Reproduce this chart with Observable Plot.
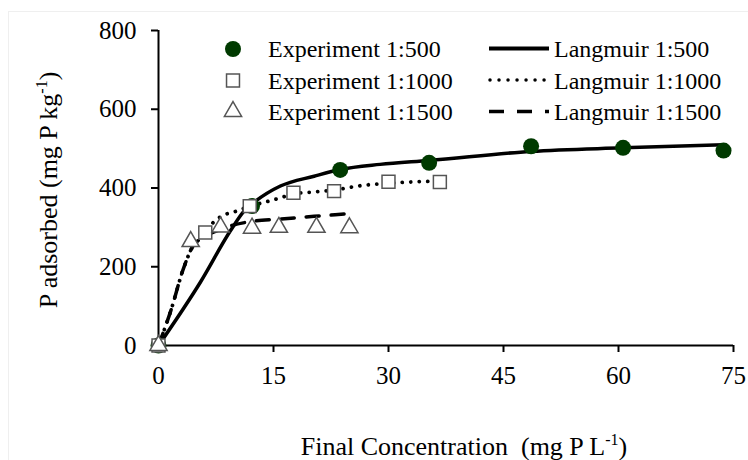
<!DOCTYPE html>
<html>
<head>
<meta charset="utf-8">
<script src="https://cdn.jsdelivr.net/npm/d3@7"></script>
<script src="https://cdn.jsdelivr.net/npm/@observablehq/plot@0.6"></script>
<style>
  html, body { margin: 0; padding: 0; background: #fff; }
  #wrap { position: relative; width: 748px; height: 460px; overflow: hidden; background: #fff; }
  #frame { position: absolute; left: 8px; top: 11px; width: 760px; height: 470px; border: 1px solid #efefef; box-sizing: border-box; }
  #chart { position: absolute; left: 0; top: 0; }
  #overlay { position: absolute; left: 0; top: 0; pointer-events: none; }
</style>
</head>
<body>
<div id="wrap">
  <div id="frame"></div>
  <div id="chart"></div>
  <svg id="overlay" width="748" height="460"></svg>
</div>
<script>
// ---- data ----
const xTicks = [0, 15, 30, 45, 60, 75];
const yTicks = [0, 200, 400, 600, 800];

const exp500X = [0, 12.2, 23.7, 35.3, 48.6, 60.6, 73.7];
const exp500Y = [0, 354, 446, 464, 506, 502, 495];

const exp1000X = [0, 6.1, 11.9, 17.6, 22.9, 30.0, 36.7];
const exp1000Y = [0, 287, 354, 388, 392, 416, 415];

const exp1500X = [0, 4.2, 8.1, 12.2, 15.7, 20.6, 24.9];
const exp1500Y = [0, 264, 301, 298, 300, 300, 299];

const lang500X = [0, 5.5, 9.4, 11.1, 12.7, 15.9, 20.3, 23.7, 28.9, 35.3, 48.6, 60.6, 73.7];
const lang500Y = [0, 162, 292, 340, 367, 405, 430, 447, 460, 470, 493, 502, 510];

const lang1000X = [0, 1.6, 3.3, 4.6, 6.1, 8.1, 10.3, 11.9, 13.7, 15.9, 17.6, 20.3, 22.9, 26.8, 30.0, 36.7];
const lang1000Y = [0, 88, 198, 257, 292, 327, 342, 354, 363, 375, 385, 390, 395, 407, 412, 418];

const lang1500X = [0, 1.6, 3.3, 4.6, 8.1, 12.1, 15.7, 20.3, 24.9];
const lang1500Y = [0, 88, 198, 255, 295, 315, 321, 328, 335];

const legendExp = ["Experiment 1:500", "Experiment 1:1000", "Experiment 1:1500"];
const legendLang = ["Langmuir 1:500", "Langmuir 1:1000", "Langmuir 1:1500"];

// ---- styles ----
const green = "#003a00";
const gray = "#555555";
const FONT = "'Liberation Serif', 'Times New Roman', serif";

const rows = (xs, ys) => xs.map((x, i) => ({x, y: ys[i]}));

const plot = Plot.plot({
  width: 748,
  height: 460,
  marginLeft: 158,
  marginRight: 15,
  marginTop: 30,
  marginBottom: 115,
  x: {domain: [0, 75]},
  y: {domain: [0, 800]},
  style: {fontFamily: FONT, fontSize: "25px", color: "black", background: "transparent", overflow: "visible"},
  marks: [
    Plot.axisX({ticks: xTicks, tickSize: 7, tickPadding: 14, strokeWidth: 2, label: null, tickFormat: d => String(d)}),
    Plot.axisY({ticks: yTicks, tickSize: 7, tickPadding: 15, strokeWidth: 2, label: null, tickFormat: d => String(d)}),
    Plot.ruleY([0], {strokeWidth: 2}),
    Plot.ruleX([0], {strokeWidth: 2}),
    Plot.line(rows(lang1500X, lang1500Y), {x: "x", y: "y", stroke: "black", strokeWidth: 3.5, strokeDasharray: "13,12", curve: "monotone-x"}),
    Plot.line(rows(lang1000X, lang1000Y), {x: "x", y: "y", stroke: "black", strokeWidth: 3.8, strokeDasharray: "0.01,8.5", strokeLinecap: "round", curve: "monotone-x"}),
    Plot.line(rows(lang500X, lang500Y), {x: "x", y: "y", stroke: "black", strokeWidth: 3.5, curve: "monotone-x"}),
    Plot.dot(rows(exp500X, exp500Y), {x: "x", y: "y", r: 8, fill: green, stroke: "none"}),
    Plot.dot(rows(exp1000X, exp1000Y), {x: "x", y: "y", r: 7.3, symbol: "square", fill: "white", stroke: gray, strokeWidth: 1.5}),
    Plot.dot(rows(exp1500X, exp1500Y), {x: "x", y: "y", r: 6.4, symbol: "triangle", fill: "white", stroke: gray, strokeWidth: 1.5})
  ]
});
document.getElementById("chart").appendChild(plot);

// ---- overlay: legend and axis titles ----
const svg = d3.select("#overlay");
const rowY = [49, 80.5, 111.5];
const baseY = [57, 88.5, 119.5];

// experiment markers
svg.append("path").attr("d", d3.symbol(d3.symbolCircle, Math.PI * 64)()).attr("transform", `translate(233,${rowY[0]})`).attr("fill", green);
svg.append("path").attr("d", d3.symbol(d3.symbolSquare, Math.PI * 7.3 * 7.3)()).attr("transform", `translate(233,${rowY[1]})`).attr("fill", "white").attr("stroke", gray).attr("stroke-width", 1.5);
svg.append("path").attr("d", d3.symbol(d3.symbolTriangle, Math.PI * 6.4 * 6.4)()).attr("transform", `translate(233,${rowY[2]})`).attr("fill", "white").attr("stroke", gray).attr("stroke-width", 1.5);
legendExp.forEach((t, i) => {
  svg.append("text").attr("x", 268).attr("y", baseY[i]).attr("font-family", FONT).attr("font-size", 24).text(t);
});

// langmuir line samples
svg.append("line").attr("x1", 489).attr("x2", 549).attr("y1", 48.5).attr("y2", 48.5).attr("stroke", "black").attr("stroke-width", 4);
svg.append("line").attr("x1", 490).attr("x2", 549).attr("y1", 80).attr("y2", 80).attr("stroke", "black").attr("stroke-width", 3.5).attr("stroke-dasharray", "0.01,9").attr("stroke-linecap", "round");
svg.append("line").attr("x1", 489).attr("x2", 549).attr("y1", 111.5).attr("y2", 111.5).attr("stroke", "black").attr("stroke-width", 3.5).attr("stroke-dasharray", "15,13");
legendLang.forEach((t, i) => {
  svg.append("text").attr("x", 554).attr("y", baseY[i]).attr("font-family", FONT).attr("font-size", 24).text(t);
});

// x axis title
const xt = svg.append("text").attr("x", 464).attr("y", 455).attr("text-anchor", "middle").attr("font-family", FONT).attr("font-size", 26);
xt.append("tspan").text("Final Concentration\u00a0\u00a0(mg P L");
xt.append("tspan").attr("dy", -10).attr("font-size", 16).text("-1");
xt.append("tspan").attr("dy", 10).text(")");

// y axis title
const yt = svg.append("text").attr("transform", "translate(56.5,190) rotate(-90)").attr("text-anchor", "middle").attr("font-family", FONT).attr("font-size", 26);
yt.append("tspan").text("P adsorbed (mg P kg");
yt.append("tspan").attr("dy", -10).attr("font-size", 16).text("-1");
yt.append("tspan").attr("dy", 10).text(")");
</script>
</body>
</html>
